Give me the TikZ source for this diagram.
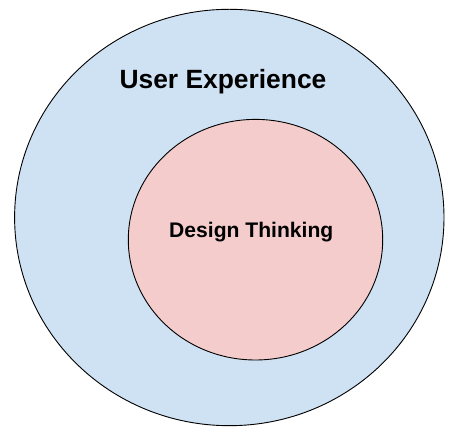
\documentclass[tikz,border=0pt]{standalone}
\usepackage{fontspec}
\setmainfont{Liberation Sans}
\definecolor{uxblue}{HTML}{CFE2F3}
\definecolor{dtpink}{HTML}{F4CCCC}
\begin{document}
\begin{tikzpicture}[x=1pt,y=1pt,
  ring/.style={draw=black,line width=0.9pt},
  lbl/.style={inner sep=0pt,anchor=base,font=\bfseries}]
\useasboundingbox (0,0) rectangle (458,444);
\fill[white] (0,0) rectangle (458,444);
\draw[ring,fill=uxblue] (229.3,226.5) ellipse [x radius=214.7,y radius=208.2];
\draw[ring,fill=dtpink] (255.5,204.3) ellipse [x radius=127.2,y radius=120.3];
\node[lbl,font=\fontsize{26.4}{30}\selectfont\bfseries] (ux) at (223,355.7) {User Experience};
\node[lbl,font=\fontsize{21.1}{25}\selectfont\bfseries] (dt) at (251.3,206.7) {Design Thinking};
\end{tikzpicture}
\end{document}
